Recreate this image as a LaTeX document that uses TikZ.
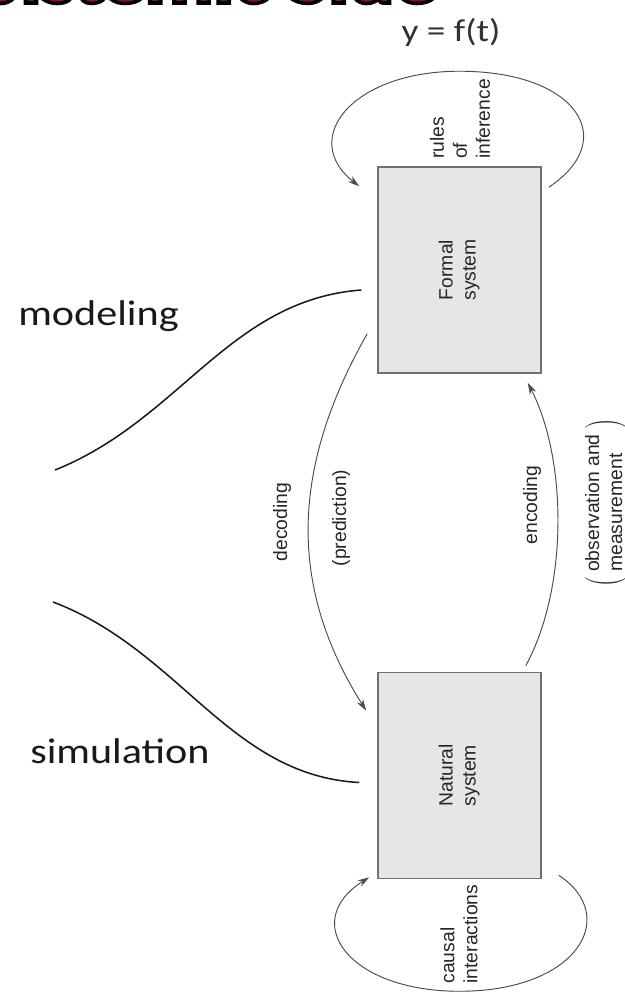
\documentclass[tikz,border=0pt]{standalone}
\usepackage{fontspec}
\usepackage{graphicx}
\setmainfont{Liberation Sans}
\newfontfamily\slidefont{Carlito}
\usetikzlibrary{arrows.meta}

\definecolor{boxfill}{HTML}{E6E6E6}
\definecolor{boxline}{HTML}{707070}
\definecolor{arcline}{HTML}{4A4A4A}
\definecolor{titlered}{HTML}{8B1020}
\newcommand\labelsize{\fontsize{16.5}{19.6}\selectfont}

\tikzset{
  sysbox/.style={draw=boxline, fill=boxfill, line width=1.3pt, minimum width=4.89cm,
    minimum height=6.18cm, inner sep=0pt, font=\labelsize, text=black!85},
  lbl/.style={font=\labelsize, rotate=90, inner sep=0pt, text=black!85},
  conn/.style={draw=arcline, line width=0.8pt, -{Stealth[length=10pt,width=6pt]}},
  brace/.style={draw=black!90, line width=1.3pt},
  slide/.style={font=\slidefont\fontsize{30.5}{36}\selectfont, xscale=1.18,
    inner sep=0pt, text=black!90},
}

\begin{document}
\begin{tikzpicture}[x=0.03cm, y=-0.03cm]
  \useasboundingbox (0,0) rectangle (625,992);

  \node[anchor=base east, inner sep=0pt, xscale=1.2, text=titlered,
    font=\slidefont\bfseries\fontsize{60}{70}\selectfont] (title) at (437,3)
    {\special{pdf:literal direct 0 0 0 RG 3 w 2 Tr}Epistemic Side\special{pdf:literal direct 0 Tr}};
  \node[slide, font=\slidefont\fontsize{27}{32}\selectfont, text=black!80] (yft) at (451,32) {y = f(t)};

  \node[sysbox] (formal) at (459.5,270)
    {\rotatebox{90}{\begin{tabular}{@{}c@{}}Formal\\system\end{tabular}}};
  \node[sysbox] (natural) at (459.5,775.5)
    {\rotatebox{90}{\begin{tabular}{@{}c@{}}Natural\\system\end{tabular}}};

  \draw[conn] ([shift={(7,21)}]formal.north east) .. controls +(72,-48) and +(117,0) .. ([shift={(0,-95)}]formal.north)
    .. controls +(-108,0) and +(-60,-47) .. ([shift={(-18,20)}]formal.north west);
  \draw[conn] ([shift={(-10,-40)}]formal.south west) .. controls +(-78,137) and +(-77,-122) .. ([shift={(-11,39)}]natural.north west);
  \draw[conn] ([shift={(-16,-6)}]natural.north east) .. controls +(42,-77) and +(40,78) .. ([shift={(-14,9)}]formal.south east);
  \draw[conn] ([shift={(17,-4)}]natural.south east) .. controls +(62,41) and +(118,0) .. ([shift={(0,112)}]natural.south)
    .. controls +(-112,0) and +(-70,44) .. ([shift={(-8,-2)}]natural.south west);

  \node[lbl, align=left] (rules) at (460,119) {rules\\of\\inference};
  \node[lbl] (decoding) at (282,522) {decoding};
  \node[lbl] (prediction) at (341,518) {(prediction)};
  \node[lbl] (encoding) at (532,505) {encoding};
  \node[lbl] (observation) at (606,503)
    {$\left(\;\begin{tabular}{@{}l@{}}observation and\\measurement\end{tabular}\;\right)$};
  \node[lbl, align=left] (causal) at (459,934) {causal\\interactions};

  \node[slide, anchor=base west] (modeling) at (18,325) {modeling};
  \node[slide, anchor=base west] (simulation) at (30,763) {simulation};
  \coordinate (model-end) at (55,470);
  \coordinate (simul-end) at (53,602);
  \draw[brace] (model-end) .. controls +(125,-50) and +(-132,10) .. ([shift={(-16,20)}]formal.west);
  \draw[brace] (simul-end) .. controls +(127,48) and +(-130,-7) .. ([shift={(-18,7)}]natural.west);
\end{tikzpicture}
\end{document}
